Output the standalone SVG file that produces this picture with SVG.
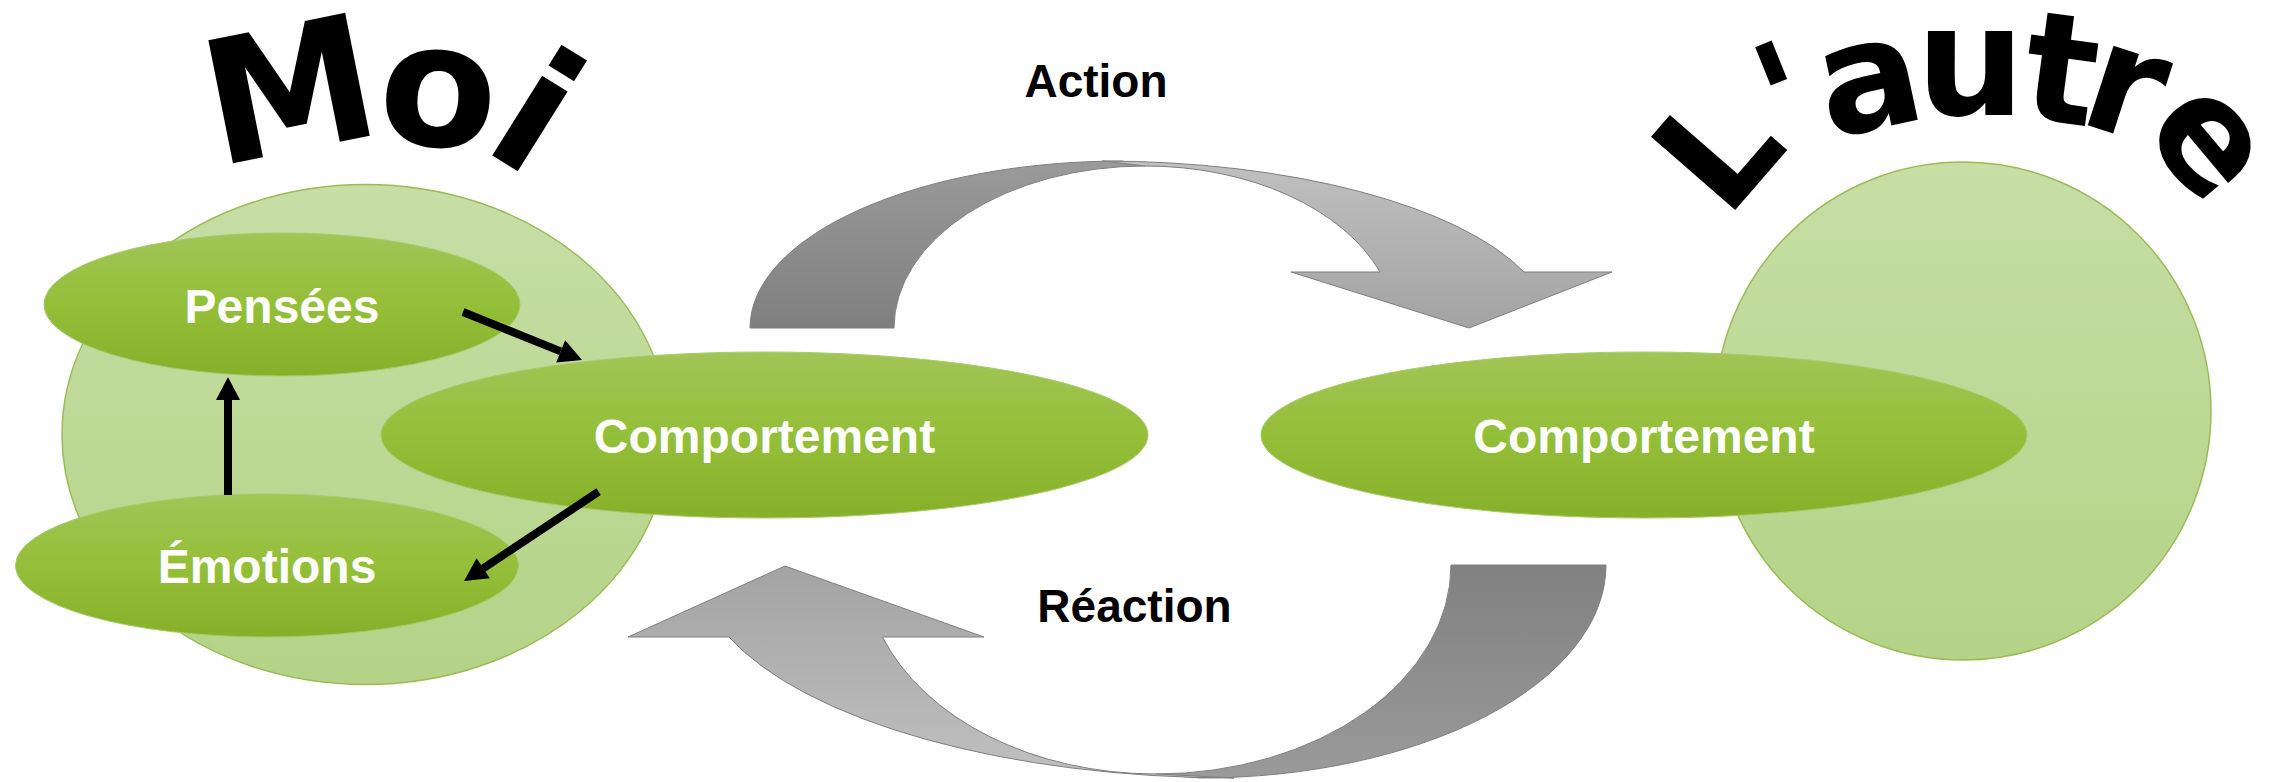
<svg xmlns="http://www.w3.org/2000/svg" width="2277" height="782" viewBox="0 0 2277 782">
<defs>
  <linearGradient id="gLight" x1="0" y1="0" x2="0" y2="1">
    <stop offset="0" stop-color="#c7dea5"/>
    <stop offset="1" stop-color="#b4d387"/>
  </linearGradient>
  <linearGradient id="gGreen" x1="0" y1="0" x2="0" y2="1">
    <stop offset="0" stop-color="#a1c557"/>
    <stop offset="0.5" stop-color="#94bf38"/>
    <stop offset="1" stop-color="#86b02a"/>
  </linearGradient>
  <linearGradient id="gTopDark" x1="0" y1="0" x2="0" y2="1">
    <stop offset="0" stop-color="#9a9a9a"/>
    <stop offset="1" stop-color="#7f7f7f"/>
  </linearGradient>
  <linearGradient id="gTopLight" x1="0" y1="0" x2="0" y2="1">
    <stop offset="0" stop-color="#c0c0c0"/>
    <stop offset="1" stop-color="#a3a3a3"/>
  </linearGradient>
  <linearGradient id="gBotDark" x1="0" y1="0" x2="0" y2="1">
    <stop offset="0" stop-color="#818181"/>
    <stop offset="1" stop-color="#9a9a9a"/>
  </linearGradient>
  <linearGradient id="gBotLight" x1="0" y1="0" x2="0" y2="1">
    <stop offset="0" stop-color="#a3a3a3"/>
    <stop offset="1" stop-color="#c0c0c0"/>
  </linearGradient>
  <marker id="ah" markerUnits="userSpaceOnUse" markerWidth="24" markerHeight="24" refX="0" refY="12" orient="auto" overflow="visible">
    <path d="M0,0 L23,12 L0,24 Z" fill="#000"/>
  </marker>
</defs>
<style>
  .big{fill:url(#gLight);stroke:#9bbb59;stroke-width:1.5}
  .node{fill:url(#gGreen);stroke:#a9ca6c;stroke-width:1}
  .lbl{font-family:"Liberation Sans",Arial,sans-serif;font-weight:bold;font-size:48px;fill:#ffffff;text-anchor:middle}
  .cap{font-family:"Liberation Sans",Arial,sans-serif;font-weight:bold;font-size:46px;fill:#000000;text-anchor:middle}
  .wa{font-family:"DejaVu Sans",sans-serif;font-weight:bold;fill:#000000}
  .conn{stroke:#000000;stroke-width:8;fill:none;marker-end:url(#ah)}
  .arr{stroke:#7f7f7f;stroke-width:1}
</style>
<rect width="2277" height="782" fill="#ffffff"/>

<g id="moi-zone">
  <ellipse class="big" cx="365.5" cy="434.5" rx="303.5" ry="250"/>
</g>
<g id="autre-zone">
  <ellipse class="big" cx="1963" cy="411" rx="248" ry="249"/>
</g>

<g id="title-moi">
  <text class="wa" font-size="172" x="217.6 375 480" y="166.3 140.6 147.7" rotate="-11.3 5 32">Moi</text>
</g>
<g id="title-autre">
  <text class="wa" font-size="153" x="1726 1783.4 1828.4 1916 2018.2 2075.5 2139.7" y="220.4 156 138.8 115 117.2 121.2 131.3" rotate="-49 -22 -12 0 7.6 18 50">L'autre</text>
</g>

<g id="pensees">
  <ellipse class="node" cx="282" cy="304.5" rx="238" ry="71.5"/>
  <text class="lbl" x="282" y="323">Pensées</text>
</g>
<g id="emotions">
  <ellipse class="node" cx="267" cy="565.5" rx="251.5" ry="71.5"/>
  <text class="lbl" x="267" y="583">Émotions</text>
</g>
<g id="comportement-moi">
  <ellipse class="node" cx="764.5" cy="435" rx="383.5" ry="83"/>
  <text class="lbl" x="764.5" y="453">Comportement</text>
</g>
<g id="comportement-autre">
  <ellipse class="node" cx="1644" cy="435" rx="383" ry="83"/>
  <text class="lbl" x="1644" y="453">Comportement</text>
</g>

<g id="action-arrow">
  <path class="arr" fill="url(#gTopDark)" d="M750,328 A372,167 0 0 1 1122,161 L1145,166 A251,162 0 0 0 894,328 Z"/>
  <path class="arr" fill="url(#gTopLight)" d="M1102,161 A449,169 0 0 1 1524,272 L1612,272 L1469,328 L1291,272 L1380,272 A251,164 0 0 0 1145,166 Z"/>
  <text class="cap" x="1096" y="97">Action</text>
</g>
<g id="reaction-arrow">
  <path class="arr" fill="url(#gBotDark)" d="M1606,565 A406,213 0 0 1 1200,778 L1156,774 A295,209 0 0 0 1451,565 Z"/>
  <path class="arr" fill="url(#gBotLight)" d="M729,637 A537,213 0 0 0 1234,778 L1156,774 A291,209 0 0 1 882.5,637 L984,637 L785,566 L628,637 Z"/>
  <text class="cap" x="1134.5" y="622">Réaction</text>
</g>

<g id="connectors">
  <line class="conn" x1="463" y1="312" x2="560.7" y2="351.4"/>
  <line class="conn" x1="228" y1="495" x2="228" y2="400"/>
  <line class="conn" x1="598.6" y1="491.7" x2="483.2" y2="568.3"/>
</g>
</svg>
